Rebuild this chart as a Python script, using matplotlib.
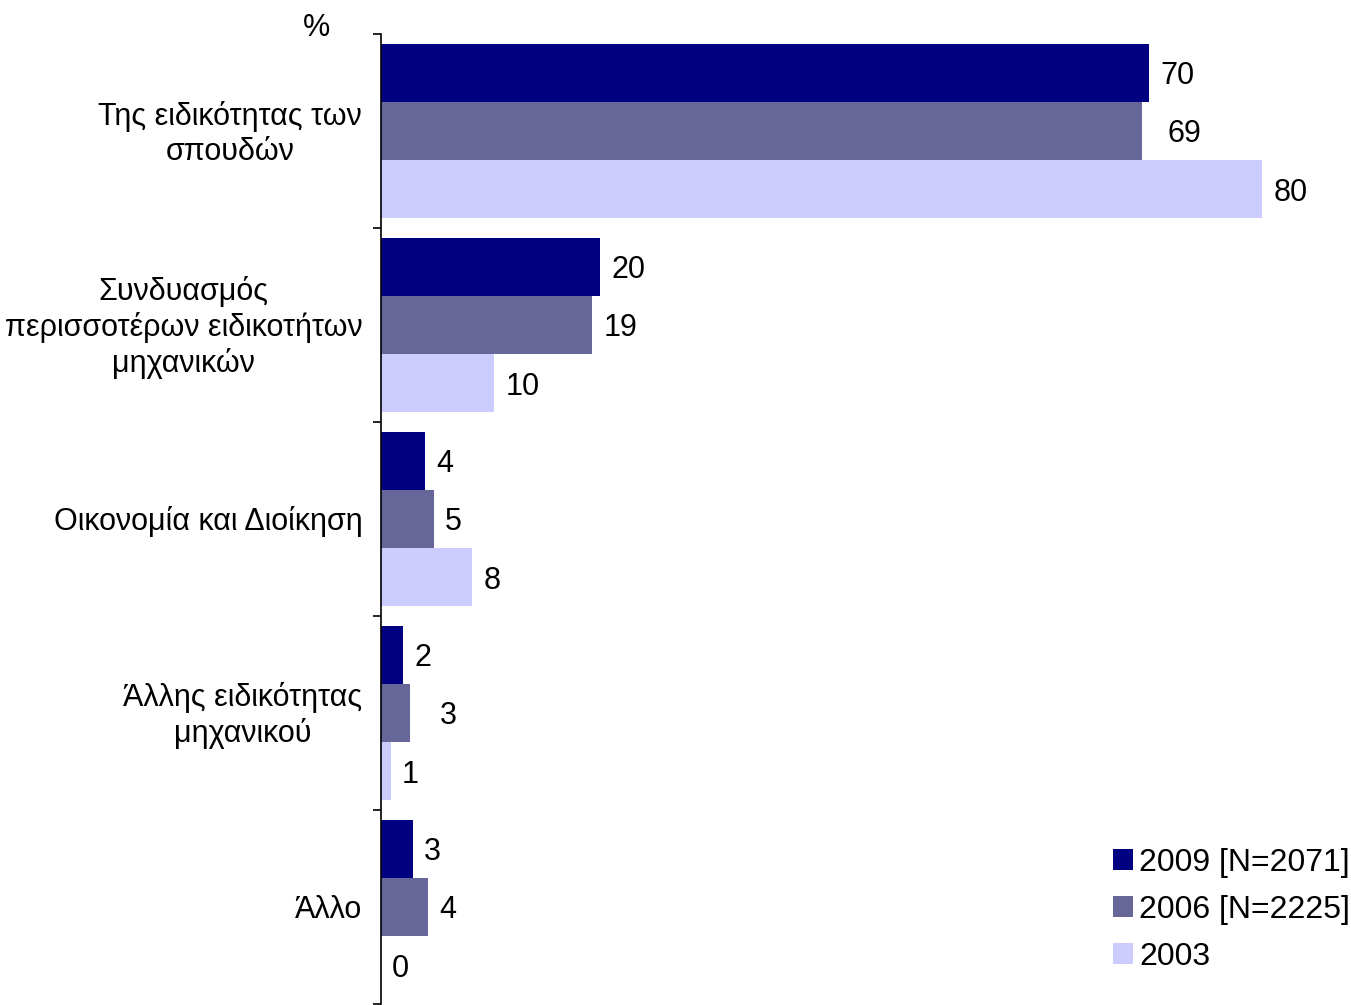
import matplotlib
matplotlib.use("Agg")
import matplotlib.pyplot as plt
import numpy as np

plt.rcParams['font.family'] = ['Liberation Sans', 'DejaVu Sans']

categories = [
    "Της ειδικότητας των\nσπουδών",
    "Συνδυασμός\nπερισσοτέρων ειδικοτήτων\nμηχανικών",
    "Οικονομία και Διοίκηση",
    "Άλλης ειδικότητας\nμηχανικού",
    "Άλλο",
]
series_names = ["2009 [N=2071]", "2006 [N=2225]", "2003"]
values_2009 = [69.8, 19.9, 4.0, 2.0, 2.9]
values_2006 = [69.2, 19.2, 4.8, 2.6, 4.3]
values_2003 = [80.1, 10.3, 8.3, 0.9, 0.0]
series_values = [values_2009, values_2006, values_2003]
colors = ["#000080", "#666699", "#CCCCFF"]

# extra horizontal nudges (in points) for a few labels, as in the original
label_nudge = [
    [0, 0, 0, 0, 0],
    [10, 0, 0, 14, 0],
    [0, 0, 0, 0, 0],
]

W, H = 1351, 1005
fig = plt.figure(figsize=(W / 100, H / 100), dpi=100)
ax = fig.add_axes([381 / W, 1 / H, (W - 381) / W, (1004 - 34) / H])

n = len(categories)
y = np.arange(n)
bh = 0.3
fs = 22
for i, (vals, col, name) in enumerate(zip(series_values, colors, series_names)):
    pos = y + (i - 1) * bh
    bars = ax.barh(pos, vals, height=bh, color=col, label=name)
    for j, (b, v) in enumerate(zip(bars, vals)):
        ax.annotate(f"{v:.0f}", xy=(v, pos[j]), xytext=(8 + label_nudge[i][j], -2.5),
                    textcoords="offset points", ha="left", va="center",
                    fontsize=fs)

ax.set_xlim(0, (W - 381) / 11.0)
ax.set_ylim(n - 0.5, -0.5)

for s in ["top", "right", "bottom"]:
    ax.spines[s].set_visible(False)
ax.spines["left"].set_linewidth(1.2)
ax.set_xticks([])
ax.set_yticks(np.arange(-0.5, n, 1.0))
ax.set_yticklabels([])
ax.tick_params(axis="y", which="major", length=6, width=1.2, direction="out")

# category labels
for i, cat in enumerate(categories):
    ax.annotate(cat, xy=(0, y[i]), xycoords=("axes fraction", "data"),
                xytext=(-13.5, -2), textcoords="offset points",
                ha="right", va="center", multialignment="center",
                fontsize=fs, annotation_clip=False)

fig.text(316 / W, 1 - 28 / H, "%", fontsize=fs, ha="center", va="center")

leg = fig.legend(loc="lower right", bbox_to_anchor=(1350 / W, 33 / H),
                 frameon=False, fontsize=23, handlelength=0.63, handleheight=0.63,
                 handletextpad=0.2, labelspacing=0.53, borderpad=0,
                 borderaxespad=0)

fig.savefig("out.png", dpi=100)
